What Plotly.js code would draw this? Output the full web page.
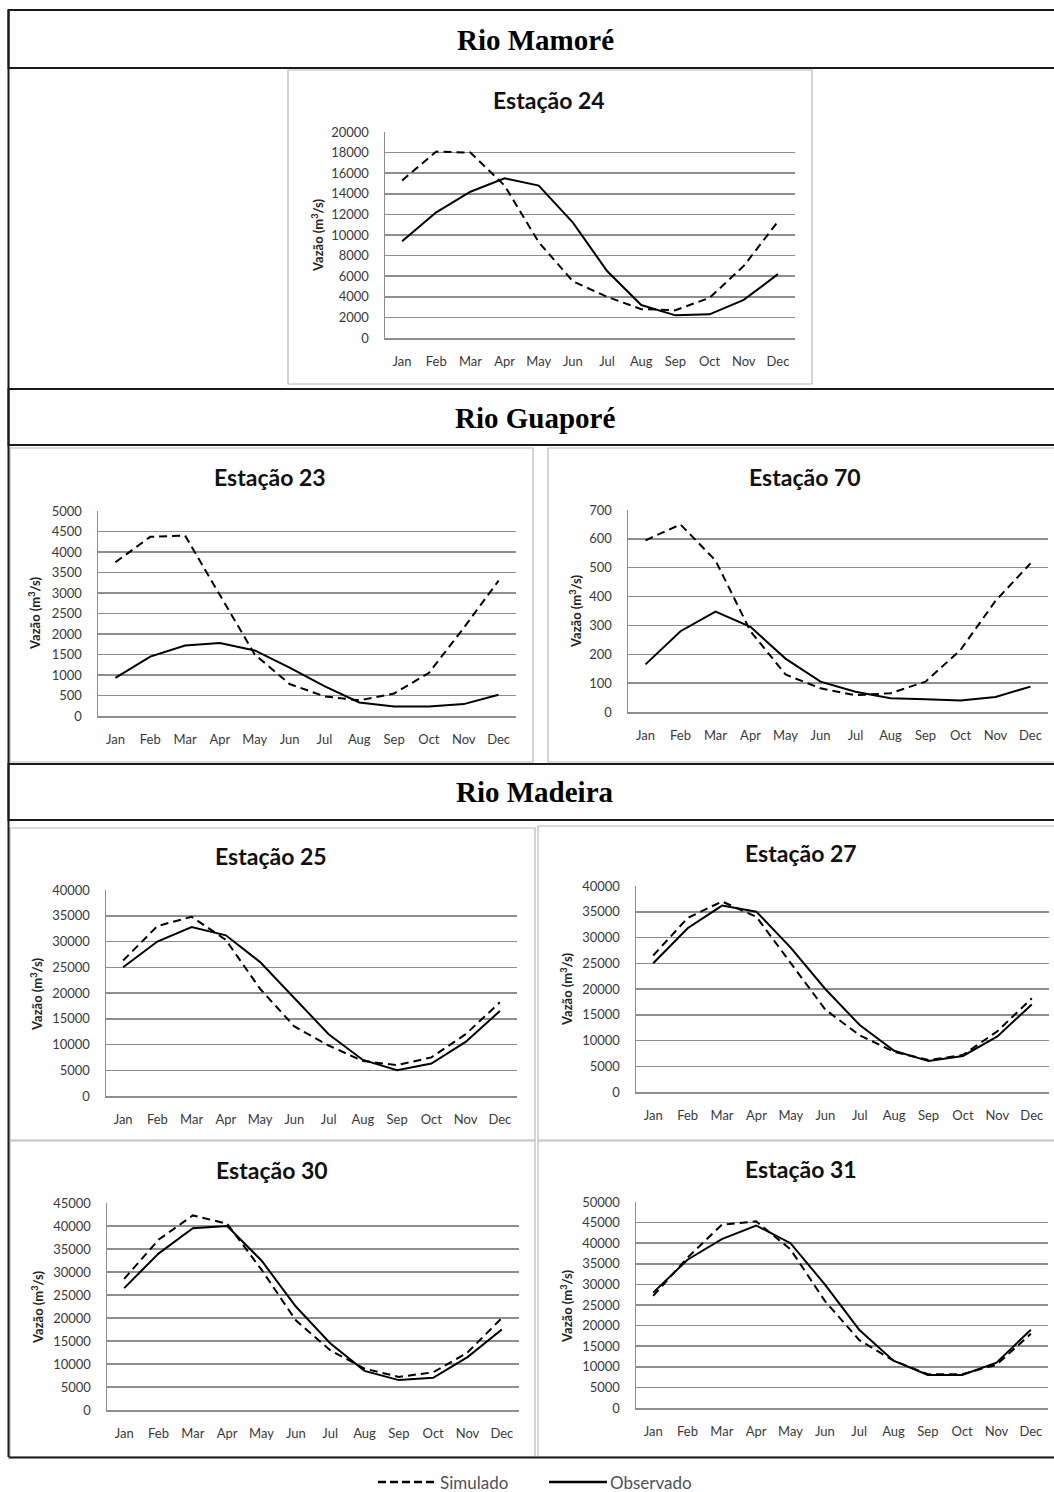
<!DOCTYPE html>
<html>
<head>
<meta charset="utf-8">
<script src="https://cdn.plot.ly/plotly-3.0.1.min.js"></script>
<style>
  html, body { margin: 0; padding: 0; background: #ffffff; }
  #chart { width: 1054px; height: 1492px; }
</style>
</head>
<body>
<div id="chart"></div>
<script>
// ---------- Data ----------
const months = ['Jan','Feb','Mar','Apr','May','Jun','Jul','Aug','Sep','Oct','Nov','Dec'];

const sections = ['Rio Mamoré', 'Rio Guaporé', 'Rio Madeira'];
const stationNames = ['Estação 24', 'Estação 23', 'Estação 70', 'Estação 25', 'Estação 27', 'Estação 30', 'Estação 31'];
const seriesNames = ['Simulado', 'Observado'];
const yAxisLabel = 'Vazão (m<sup>3</sup>/s)';

const sim24 = [15300, 18100, 18000, 14800, 9300, 5500, 4000, 2800, 2700, 3900, 7000, 11300];
const obs24 = [9400, 12200, 14200, 15500, 14800, 11200, 6500, 3200, 2200, 2300, 3700, 6200];

const sim23 = [3750, 4370, 4400, 2950, 1500, 780, 480, 380, 550, 1050, 2150, 3300];
const obs23 = [930, 1450, 1720, 1780, 1600, 1180, 730, 330, 230, 230, 290, 520];

const sim70 = [595, 650, 525, 280, 130, 82, 58, 65, 105, 215, 385, 515];
const obs70 = [165, 280, 348, 295, 185, 105, 70, 48, 44, 40, 52, 88];

const sim25 = [26300, 33000, 34800, 30300, 20800, 13500, 9800, 6800, 6000, 7500, 12000, 18200];
const obs25 = [25000, 30000, 32800, 31200, 26000, 19000, 12000, 7000, 5000, 6300, 10500, 16500];

const sim27 = [26500, 33800, 37000, 34000, 25000, 16000, 11000, 7800, 6200, 7200, 11800, 18200];
const obs27 = [25000, 31800, 36200, 35000, 28000, 20000, 13000, 8000, 6000, 7000, 10800, 17000];

const sim30 = [28500, 37000, 42300, 40500, 30500, 19500, 13000, 9000, 7200, 8200, 12500, 20000];
const obs30 = [26500, 34000, 39500, 40000, 32500, 22500, 14500, 8500, 6500, 7000, 11500, 17500];

const sim31 = [27200, 36500, 44500, 45300, 38500, 26000, 16500, 11500, 8200, 8200, 10500, 18000];
const obs31 = [28000, 36000, 41000, 44300, 40000, 30000, 19000, 11500, 8000, 8000, 11000, 19000];

const yMax = [20000, 5000, 700, 40000, 40000, 45000, 50000];
const yStep = [2000, 500, 100, 5000, 5000, 5000, 5000];

// ---------- Layout geometry (pixels) ----------
const W = 1054, H = 1492;
const px = v => v / W;
const py = v => 1 - v / H;

const panels = [
  { sim: sim24, obs: obs24, area: [385, 795, 132, 338], title: [549, 100], ylab: [317, 236], frame: [288, 70, 812, 384] },
  { sim: sim23, obs: obs23, area: [98, 516, 511, 716],  title: [270, 477], ylab: [35, 614],  frame: [10, 448, 533, 762] },
  { sim: sim70, obs: obs70, area: [628, 1048, 510, 712], title: [805, 477], ylab: [575, 612], frame: [548, 448, 1060, 762] },
  { sim: sim25, obs: obs25, area: [106, 517, 890, 1096], title: [271, 856], ylab: [37, 995], frame: [10, 828, 535, 1140] },
  { sim: sim27, obs: obs27, area: [636, 1049, 886, 1092], title: [801, 853], ylab: [566, 990], frame: [538, 826, 1060, 1140] },
  { sim: sim30, obs: obs30, area: [107, 519, 1203, 1410], title: [272, 1170], ylab: [37, 1308], frame: [10, 1141, 535, 1457] },
  { sim: sim31, obs: obs31, area: [636, 1048, 1202, 1408], title: [801, 1169], ylab: [566, 1307], frame: [538, 1141, 1060, 1457] }
];

const headerBoxes = [ [10, 68, 40], [389, 445, 418], [764, 820, 792] ];

const fam = 'Lato, "Open Sans", sans-serif';
const tickFont = { family: fam, size: 13, color: '#3a3a3a' };
const gridColor = '#8e8e8e';

const data = [];
const layout = {
  width: W, height: H,
  margin: { l: 0, r: 0, t: 0, b: 0 },
  paper_bgcolor: '#ffffff',
  plot_bgcolor: '#ffffff',
  showlegend: false,
  shapes: [],
  annotations: []
};

panels.forEach((p, i) => {
  const n = i + 1;
  const xa = n === 1 ? 'x' : 'x' + n;
  const ya = n === 1 ? 'y' : 'y' + n;
  const xk = n === 1 ? 'xaxis' : 'xaxis' + n;
  const yk = n === 1 ? 'yaxis' : 'yaxis' + n;

  data.push({
    type: 'scatter', mode: 'lines', name: seriesNames[0],
    x: months, y: p.sim, xaxis: xa, yaxis: ya,
    line: { color: '#000000', width: 2, dash: '8px,5px' },
    hoverinfo: 'skip'
  });
  data.push({
    type: 'scatter', mode: 'lines', name: seriesNames[1],
    x: months, y: p.obs, xaxis: xa, yaxis: ya,
    line: { color: '#000000', width: 2 },
    hoverinfo: 'skip'
  });

  const [L, R, T, B] = p.area;
  layout[xk] = {
    domain: [px(L), px(R)],
    anchor: ya,
    type: 'category',
    categoryorder: 'array',
    categoryarray: months,
    range: [-0.5, 11.5],
    showgrid: false,
    zeroline: false,
    showline: true,
    linecolor: gridColor,
    linewidth: 1.5,
    ticks: 'outside',
    ticklen: 11,
    tickcolor: 'rgba(0,0,0,0)',
    tickfont: tickFont,
    fixedrange: true
  };
  layout[yk] = {
    domain: [py(B), py(T)],
    anchor: xa,
    range: [0, yMax[i]],
    dtick: yStep[i],
    tick0: 0,
    showgrid: true,
    gridcolor: gridColor,
    gridwidth: 1.5,
    zeroline: false,
    showline: true,
    linecolor: gridColor,
    linewidth: 1.5,
    ticks: 'outside',
    ticklen: 12,
    tickcolor: 'rgba(0,0,0,0)',
    tickfont: tickFont,
    tickformat: 'd',
    fixedrange: true
  };

  const [fx0, fy0, fx1, fy1] = p.frame;
  layout.shapes.push({
    type: 'rect', xref: 'paper', yref: 'paper',
    x0: px(fx0), x1: px(fx1), y0: py(fy1), y1: py(fy0),
    line: { color: '#b8b8b8', width: 1.2 }, layer: 'below'
  });

  layout.annotations.push({
    xref: 'paper', yref: 'paper', x: px(p.title[0]), y: py(p.title[1]),
    xanchor: 'center', yanchor: 'middle', showarrow: false,
    text: '<b>' + stationNames[i] + '</b>',
    font: { family: fam, size: 23, color: '#111111' }
  });
  layout.annotations.push({
    xref: 'paper', yref: 'paper', x: px(p.ylab[0]), y: py(p.ylab[1]),
    xanchor: 'center', yanchor: 'middle', showarrow: false, textangle: -90,
    text: '<b>' + yAxisLabel + '</b>',
    font: { family: fam, size: 13, color: '#222222' }
  });
});

headerBoxes.forEach((hb, i) => {
  layout.shapes.push({
    type: 'rect', xref: 'paper', yref: 'paper',
    x0: px(8.5), x1: px(1062), y0: py(hb[1]), y1: py(hb[0]),
    line: { color: '#1a1a1a', width: 2 }
  });
  layout.annotations.push({
    xref: 'paper', yref: 'paper', x: px(535), y: py(hb[2]),
    xanchor: 'center', yanchor: 'middle', showarrow: false,
    text: '<b>' + sections[i] + '</b>',
    font: { family: '"Liberation Serif", "Times New Roman", serif', size: 29, color: '#000000' }
  });
});

layout.shapes.push({
  type: 'line', xref: 'paper', yref: 'paper',
  x0: px(8.5), x1: px(8.5), y0: py(10), y1: py(1457),
  line: { color: '#1a1a1a', width: 2 }
});
layout.shapes.push({
  type: 'line', xref: 'paper', yref: 'paper',
  x0: px(8.5), x1: px(1062), y0: py(1457.5), y1: py(1457.5),
  line: { color: '#1a1a1a', width: 2 }
});

// legend (drawn)
layout.shapes.push({
  type: 'line', xref: 'paper', yref: 'paper',
  x0: px(378), x1: px(437), y0: py(1482), y1: py(1482),
  line: { color: '#000000', width: 2.5, dash: '8px,4px' }
});
layout.shapes.push({
  type: 'line', xref: 'paper', yref: 'paper',
  x0: px(549), x1: px(607), y0: py(1482), y1: py(1482),
  line: { color: '#000000', width: 2.5 }
});
layout.annotations.push({
  xref: 'paper', yref: 'paper', x: px(438), y: py(1482),
  xanchor: 'left', yanchor: 'middle', showarrow: false, text: seriesNames[0],
  font: { family: fam, size: 17, color: '#50505a' }
});
layout.annotations.push({
  xref: 'paper', yref: 'paper', x: px(608), y: py(1482),
  xanchor: 'left', yanchor: 'middle', showarrow: false, text: seriesNames[1],
  font: { family: fam, size: 17, color: '#50505a' }
});

Plotly.newPlot('chart', data, layout, { staticPlot: true, displayModeBar: false });
</script>
</body>
</html>
